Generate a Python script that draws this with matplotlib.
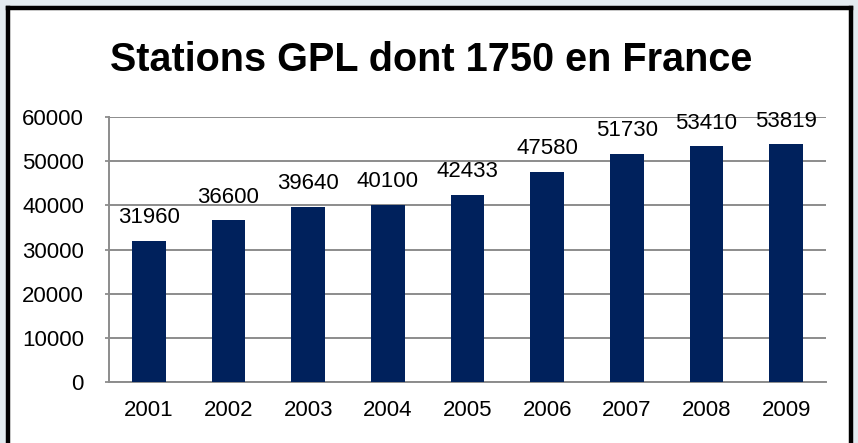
import matplotlib
matplotlib.use("Agg")
import matplotlib.pyplot as plt
from matplotlib.patches import Rectangle

# Data
years = ["2001", "2002", "2003", "2004", "2005", "2006", "2007", "2008", "2009"]
stations = [31960, 36600, 39640, 40100, 42433, 47580, 51730, 53410, 53819]
yticks = [0, 10000, 20000, 30000, 40000, 50000, 60000]

plt.rcParams["font.family"] = ["Liberation Sans", "DejaVu Sans"]

fig = plt.figure(figsize=(8.58, 4.43), dpi=100, facecolor="#e3ebf0")

# white frame with black border (bottom edge runs off the picture)
W, H = 858, 443
fig.add_artist(Rectangle((8 / W, -0.01), (851 - 8) / W, 1.01 - 8 / H,
                         transform=fig.transFigure, facecolor="white",
                         edgecolor="none", zorder=-2))
for xs, ys in [([8 / W, 8 / W], [-0.01, 1 - 8 / H]),
               ([8 / W, 851 / W], [1 - 8 / H, 1 - 8 / H]),
               ([851 / W, 851 / W], [1 - 8 / H, -0.01])]:
    fig.add_artist(plt.Line2D(xs, ys, transform=fig.transFigure,
                              color="black", linewidth=3.2, zorder=-1))

ax = fig.add_axes([109 / W, 1 - 382 / H, (826 - 109) / W, (382 - 117) / H])
ax.set_facecolor("white")

x = range(len(years))
ax.bar(x, stations, width=0.42, color="#00215c", zorder=3)
for xi, v in zip(x, stations):
    ax.annotate(str(v), (xi, v), xytext=(0, 9), textcoords="offset points",
                ha="center", va="bottom", fontsize=16, zorder=4)

ax.set_xlim(-0.5, len(years) - 0.5)
ax.set_ylim(0, 60000)
ax.set_yticks(yticks)
ax.set_yticklabels([str(t) for t in yticks], fontsize=16)
ax.set_xticks(list(x))
ax.set_xticklabels(years, fontsize=16)
ax.tick_params(axis="x", length=0, pad=13)
ax.tick_params(axis="y", length=3, width=1.3, color="#8c8c8c", pad=15)
ax.yaxis.grid(True, color="#8c8c8c", linewidth=1.4, zorder=0)
ax.set_axisbelow(True)
for s in ["top", "right"]:
    ax.spines[s].set_visible(False)
for s in ["left", "bottom"]:
    ax.spines[s].set_color("#8c8c8c")
    ax.spines[s].set_linewidth(1.4)

fig.text(431 / W, 1 - 60 / H, "Stations GPL dont 1750 en France",
         ha="center", va="center", fontsize=28.5, fontweight="bold")

fig.savefig("out.png", dpi=100, facecolor=fig.get_facecolor())
